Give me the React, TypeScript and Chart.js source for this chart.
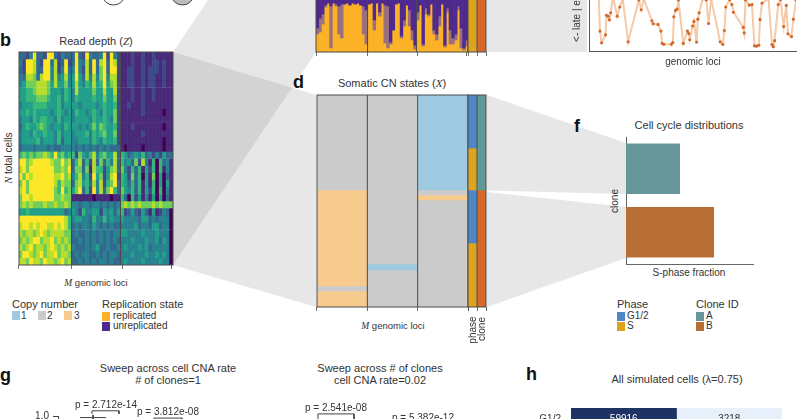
import React, { useEffect, useRef } from "react";
import { Chart, registerables } from "chart.js";

Chart.register(...registerables);

// ---------- panel b: read depth, one digit per cell (viridis bin), rows top to bottom
const readDepthRows = [
  "332493329932433" + "39329433492942" + "111211211211111",
  "429983299382392" + "39438393893982" + "111211211221211",
  "329983399482493" + "49428393793992" + "112211212221211",
  "438873899484584" + "59538484794882" + "112211212211211",
  "457778887585574" + "58546585695782" + "112211212211211",
  "556678887555465" + "48555575585582" + "111211211211111",
  "556667776556465" + "46555565575572" + "111211211211111",
  "455566665556455" + "55455554565562" + "112111211111111",
  "556565555456545" + "46554565465572" + "111111211111011",
  "455465665546455" + "45555465565472" + "111111111111111",
  "356556765455465" + "55454575765562" + "111211111111011",
  "455465565546455" + "45556465675572" + "111111211111111",
  "455556455546355" + "44555465465562" + "111111111111011",
  "344434443433444" + "43434343434333" + "101111011111011",
  "676767787696756" + "62754684675583" + "653454634242533",
  "997899999877978" + "36836283736483" + "645372841606341",
  "897999999977879" + "37737186625783" + "742636152606141",
  "979899999988978" + "46846295725892" + "652736051705031",
  "797999999986877" + "37856384826793" + "653636151605051",
  "897999999976967" + "57936294837963" + "754636152606041",
  "799899999977877" + "11111101111011" + "630625141505031",
  "787877787787787" + "44344344343434" + "787878777878777",
  "556555555555534" + "54264455254535" + "623532531512430",
  "999999999999986" + "45544364464544" + "544443553434440",
  "899898998898986" + "34344354343433" + "444453443553440",
  "878878987888877" + "34334343434344" + "554444544454440",
  "787899788978787" + "33434343434343" + "444544454453540",
  "878978878987878" + "43334345334334" + "454445453444440",
  "799878978897887" + "34344334343443" + "444544454454540",
  "887988798878978" + "33434343443433" + "454444544445440",
].map((r) => r.slice(0, 44));
const viridis = ["#440154", "#482878", "#3e4989", "#31688e", "#26828e", "#1f9e89", "#35b779", "#6ece58", "#b5de2b", "#fde725"];

// ---------- panel c: replication state per genomic column, depth in cells from the top
const unreplicatedDepth = [28, 18, 14, 5, 3, 6, 3, 4, 6, 4, 4, 3, 5, 3, 4, 3, 5, 6, 10, 4, 3, 20, 3, 12, 3, 5, 6, 42, 30, 4, 3, 36, 20, 5, 10, 30, 45, 12, 5, 44, 8, 14, 4, 30, 34, 16, 4, 45, 8, 30, 38, 34, 6, 28, 48, 40];
const mixedDepth = [6, 14, 10, 2, 0, 42, 0, 2, 28, 34, 0, 0, 0, 0, 0, 0, 0, 28, 34, 0, 0, 10, 0, 4, 0, 38, 42, 2, 0, 0, 0, 2, 6, 0, 16, 10, 4, 8, 0, 2, 6, 2, 0, 4, 6, 10, 0, 2, 4, 14, 6, 6, 4, 20, 2, 6];

// ---------- panel d: somatic CN states, cells per run, top to bottom
const GREY = "#cbcbcb", LBLUE = "#9fc9e0", LORANGE = "#f7cb8e";
const PHASE_G = "#4f86c6", PHASE_S = "#dea31f", CLONE_A = "#5f9a99", CLONE_B = "#d5682b";
const locusLabels = ["locus 1", "locus 2", "locus 3"];
const locus1Runs = [95, 96, 5, 16];
const locus1Colors = [GREY, LORANGE, GREY, LORANGE];
const locus2Runs = [169, 6, 37];
const locus2Colors = [GREY, LBLUE, GREY];
const locus3Runs = [95, 5, 5, 107];
const locus3Colors = [LBLUE, GREY, LORANGE, GREY];
const trackLabels = ["phase", "clone"];
const phaseRuns = [53, 42, 53, 64];
const phaseColors = [PHASE_G, PHASE_S, PHASE_G, PHASE_S];
const cloneRuns = [95, 117];
const cloneColors = [CLONE_A, CLONE_B];

// ---------- panel e: replication timing profile
const lociX = [10, 11.3, 13, 17, 18, 19.7, 21, 22.3, 24.7, 29, 31.7, 34.7, 40.3, 51.3, 53.7, 56.3, 64.7, 66, 71, 74, 75.3, 77, 84.7, 86.3, 87.3, 89, 90.7, 92, 97, 101.3, 102.7, 103.7, 106.7, 108, 110.7, 112, 113.3, 117, 120.7, 123, 125.7, 135, 137.7, 139.3, 140.7, 144.7, 147, 148.7, 158.7, 159.7, 161, 165, 167.7, 170.3, 172.3, 174.7, 176, 178, 184.7, 188.3, 189.7, 191, 194.7, 197, 200.3, 203, 204.7, 208.3, 210.3, 213];
const timingY = [58, 21.7, 9, 17.7, 39, 38, 34, 41.7, 59, 38, 48, 57, 10, 55.7, 45, 57, 33, 29.7, 29, 21.7, 8.3, 7.3, 7.3, 9.3, 37.3, 44.3, 45.7, 55.7, 8.3, 21.7, 19, 12.3, 27.3, 32.3, 9.7, 34.7, 41.7, 57, 55.7, 30, 57, 10, 7.3, 22.3, 48, 56, 50.7, 42.3, 25.7, 19.7, 55.7, 50, 50.7, 5.7, 5.3, 6.3, 34.3, 52.3, 57, 7, 4.7, 11.3, 50.7, 56, 26.7, 49.7, 18.7, 15.7, 34.7, 55.7];

// ---------- panel f: S-phase fraction
const cloneNames = ["A", "B"];
const sPhaseFraction = [0.425, 0.693];
const cloneBarColors = ["#67979a", "#b96f33"];

// ---------- panel g: visible tops of the box plots and significance brackets
const yTicksG = [1.0];
const whiskerCapX = [1.04, 2.27];
const whiskerCapY = [0.9925, 0.9925];
const whiskerStemX = [1.66, 1.66];
const whiskerStemY = [1.005, 0.9];
const bracketAX = [1.61, 1.61, 2.89, 2.89];
const bracketAY = [1.01, 1.025, 1.025, 1.01];
const bracketBX = [4.55, 4.55, 5.88, 5.88];
const bracketBY = [0.9, 0.99, 0.99, 0.9];
const bracketCX = [12.32, 12.32, 14.03, 14.03];
const bracketCY = [0.9, 1.01, 1.01, 0.9];

// ---------- panel h: confusion counts
const confusionRow = ["G1/2"];
const confusionCounts = [59916, 3218];
const confusionColors = ["#1e3264", "#e8f1fb"];
const confusionInk = ["#ffffff", "#333333"];

const INK = "#333333";
const FRAME = "#4a4a4a";
const FONT = '"Liberation Sans", Arial, sans-serif';

const framePlugin = {
  id: "frame",
  afterDatasetsDraw(chart: any, _a: any, opts: any) {
    if (!opts || !opts.on) return;
    const { ctx, chartArea: a, scales } = chart;
    const x = scales.x;
    const half = (x.getPixelForValue(1) - x.getPixelForValue(0)) / 2;
    ctx.save();
    ctx.strokeStyle = opts.color || FRAME;
    ctx.lineWidth = 1;
    (opts.after || []).forEach((i: number) => {
      const px = x.getPixelForValue(i) + half;
      ctx.beginPath();
      ctx.moveTo(px, a.top);
      ctx.lineTo(px, a.bottom);
      ctx.stroke();
    });
    ctx.strokeRect(a.left, a.top, a.right - a.left, a.bottom - a.top);
    ctx.restore();
  },
};

const cellTextPlugin = {
  id: "cellText",
  afterDatasetsDraw(chart: any) {
    const { ctx } = chart;
    ctx.save();
    ctx.font = `10px ${FONT}`;
    ctx.textAlign = "center";
    ctx.textBaseline = "middle";
    chart.data.datasets.forEach((d: any, i: number) => {
      const el = chart.getDatasetMeta(i).data[0];
      const r = el.getProps(["x", "base", "y"], true);
      ctx.fillStyle = confusionInk[i];
      ctx.fillText(String(d.count), (r.x + r.base) / 2, r.y);
    });
    ctx.restore();
  },
};

const quietPlugins = { legend: { display: false }, title: { display: false }, tooltip: { enabled: false } };
const PAD = 2;
const TICK = 4;

function xTickScale(tickAt?: number[]) {
  return {
    type: "category",
    offset: true,
    stacked: true,
    border: { display: false },
    grid: { drawOnChartArea: false, drawTicks: true, tickLength: TICK, color: FRAME, tickColor: FRAME, lineWidth: 0.8 },
    ticks: { display: false, autoSkip: false },
    afterBuildTicks: tickAt
      ? (s: any) => {
          s.ticks = tickAt.map((value) => ({ value }));
        }
      : undefined,
  };
}

function stackedOptions(total: number, tickAt: number[] | undefined, after: number[]) {
  return {
    responsive: false,
    animation: false,
    devicePixelRatio: 1,
    events: [],
    layout: { padding: { left: PAD, right: PAD, top: PAD, bottom: PAD } },
    plugins: { ...quietPlugins, frame: { on: true, after } },
    scales: {
      x: xTickScale(tickAt),
      y: { display: false, stacked: true, reverse: true, min: 0, max: total },
    },
  };
}

const bar = { barPercentage: 1, categoryPercentage: 1, borderWidth: 0 };

function columnsConfig(labels: string[], runs: number[][], colors: string[][], total: number, after: number[], tickAt?: number[]) {
  const datasets: any[] = [];
  runs.forEach((col, ci) =>
    col.forEach((v, si) =>
      datasets.push({ ...bar, data: labels.map((_, i) => (i === ci ? v : null)), backgroundColor: colors[ci][si] })
    )
  );
  return { type: "bar", data: { labels, datasets }, options: stackedOptions(total, tickAt, after), plugins: [framePlugin] };
}

type Panel = { key: string; left: number; top: number; width: number; height: number; blur?: number; config: any };

const plotBox = (l: number, t: number, w: number, h: number) => ({
  left: l - PAD,
  top: t - PAD,
  width: w + 2 * PAD,
  height: h + 2 * PAD + TICK,
});

const depthColumns = unreplicatedDepth.map((_, i) => String(i));
const readDepthColumns = readDepthRows[0].split("").map((_, i) => String(i));

const axisOnly = (extra: any) => ({
  grid: { display: false, drawTicks: false },
  ticks: { display: false },
  ...extra,
});

const panels: Panel[] = [
  {
    key: "b",
    ...plotBox(19, 52, 154, 213),
    blur: 0.4,
    config: {
      type: "bar",
      data: {
        labels: readDepthColumns,
        datasets: readDepthRows.map((row) => {
          const colors = row.split("").map((c) => viridis[Number(c)]);
          return { ...bar, borderWidth: 0.5, borderColor: colors, borderSkipped: false, data: row.split("").map(() => 1), backgroundColor: colors };
        }),
      },
      options: stackedOptions(readDepthRows.length, [7, 22, 36], [14, 28]),
      plugins: [framePlugin],
    },
  },
  {
    key: "c",
    ...plotBox(316, -4, 152, 56),
    blur: 0.4,
    config: {
      type: "bar",
      data: {
        labels: depthColumns,
        datasets: [
          { ...bar, data: unreplicatedDepth.map((d) => d + 4), backgroundColor: "#4f2a8e" },
          { ...bar, data: mixedDepth, backgroundColor: "#9a6f7e" },
          { ...bar, data: unreplicatedDepth.map((d, i) => 52 - d - mixedDepth[i]), backgroundColor: "#fbb226" },
        ],
      },
      options: stackedOptions(56, [9, 28, 46], [18, 36]),
      plugins: [framePlugin],
    },
  },
  {
    key: "cTracks",
    ...plotBox(468, -4, 18, 56),
    config: columnsConfig(trackLabels, [[56], [56]], [[PHASE_S], [CLONE_B]], 56, [0]),
  },
  {
    key: "d",
    ...plotBox(317, 95, 151, 212),
    config: columnsConfig(locusLabels, [locus1Runs, locus2Runs, locus3Runs], [locus1Colors, locus2Colors, locus3Colors], 212, [0, 1]),
  },
  {
    key: "dTracks",
    ...plotBox(468, 95, 18, 212),
    config: columnsConfig(trackLabels, [phaseRuns, cloneRuns], [phaseColors, cloneColors], 212, [0]),
  },
  {
    key: "e",
    left: 585,
    top: -8,
    width: 215,
    height: 63,
    config: {
      type: "line",
      data: {
        datasets: [
          {
            data: lociX.map((x, i) => ({ x, y: timingY[i] })),
            borderColor: "#f5caa8",
            borderWidth: 2,
            pointRadius: 1.6,
            pointBackgroundColor: "#d2692d",
            pointBorderWidth: 0,
            tension: 0,
          },
        ],
      },
      options: {
        responsive: false,
        animation: false,
        devicePixelRatio: 1,
        events: [],
        layout: { padding: { left: 2, top: 0, right: 0, bottom: 3 } },
        plugins: quietPlugins,
        scales: {
          x: axisOnly({ type: "linear", min: 0, max: 213, border: { color: "#555", width: 1 }, afterFit: (s: any) => { s.height = 0; } }),
          y: axisOnly({ type: "linear", min: 0, max: 60, border: { color: "#555", width: 1 }, afterFit: (s: any) => { s.width = 0; } }),
        },
      },
    },
  },
  {
    key: "f",
    left: 624,
    top: 135,
    width: 132,
    height: 132,
    config: {
      type: "bar",
      data: {
        labels: cloneNames,
        datasets: [{ data: sPhaseFraction, backgroundColor: cloneBarColors, barPercentage: 0.795, categoryPercentage: 1 }],
      },
      options: {
        indexAxis: "y",
        responsive: false,
        animation: false,
        devicePixelRatio: 1,
        events: [],
        layout: { padding: { left: 2, top: 2, right: 3, bottom: 3 } },
        plugins: quietPlugins,
        scales: {
          x: axisOnly({ type: "linear", min: 0, max: 1, border: { color: "#666", width: 1 }, afterFit: (s: any) => { s.height = 0; } }),
          y: axisOnly({ type: "category", border: { color: "#666", width: 1 }, afterFit: (s: any) => { s.width = 0; } }),
        },
      },
    },
  },
  {
    key: "g",
    left: 0,
    top: 395,
    width: 480,
    height: 240,
    config: {
      type: "line",
      data: {
        datasets: [
          [whiskerCapX, whiskerCapY],
          [whiskerStemX, whiskerStemY],
          [bracketAX, bracketAY],
          [bracketBX, bracketBY],
          [bracketCX, bracketCY],
        ].map(([xs, ys]) => ({
          data: xs.map((x, i) => ({ x, y: ys[i] })),
          borderColor: "#444",
          borderWidth: 1,
          pointRadius: 0,
          clip: false,
          tension: 0,
        })),
      },
      options: {
        responsive: false,
        animation: false,
        devicePixelRatio: 1,
        events: [],
        layout: { padding: { left: 0, top: 21, right: 0, bottom: 0 } },
        plugins: quietPlugins,
        scales: {
          x: { type: "linear", display: false, min: 0, max: 20 },
          y: {
            type: "linear",
            min: 0,
            max: 1,
            afterFit: (s: any) => {
              s.width = 58;
            },
            afterBuildTicks: (s: any) => {
              s.ticks = yTicksG.map((value) => ({ value }));
            },
            grid: { drawOnChartArea: false, tickLength: 5, color: "#444" },
            border: { color: "#444" },
            ticks: { color: INK, font: { size: 10, family: FONT }, padding: 4, callback: (v: any) => Number(v).toFixed(1) },
          },
        },
      },
    },
  },
  {
    key: "h",
    left: 540,
    top: 392,
    width: 242,
    height: 54,
    config: {
      type: "bar",
      data: {
        labels: confusionRow,
        datasets: confusionCounts.map((count, i) => ({ ...bar, count, data: [1], backgroundColor: confusionColors[i] })),
      },
      options: {
        indexAxis: "y",
        responsive: false,
        animation: false,
        devicePixelRatio: 1,
        events: [],
        plugins: quietPlugins,
        scales: {
          x: { type: "linear", stacked: true, display: false, min: 0, max: 2 },
          y: {
            type: "category",
            stacked: true,
            afterFit: (s: any) => {
              s.width = 31;
            },
            grid: { display: false, drawTicks: false },
            border: { display: false },
            ticks: { color: INK, font: { size: 10, family: FONT }, padding: 10 },
          },
        },
      },
      plugins: [cellTextPlugin],
    },
  },
];

function ChartCanvas({ panel }: { panel: Panel }) {
  const ref = useRef<HTMLCanvasElement>(null);
  useEffect(() => {
    const chart = new Chart(ref.current as HTMLCanvasElement, panel.config);
    return () => chart.destroy();
  }, [panel]);
  return (
    <canvas
      ref={ref}
      width={panel.width}
      height={panel.height}
      style={{
        position: "absolute",
        left: panel.left,
        top: panel.top,
        width: panel.width,
        height: panel.height,
        filter: panel.blur ? `blur(${panel.blur}px)` : undefined,
      }}
    />
  );
}

function Label({ x, y, size = 10, bold, rotate, align = "center", children }: any) {
  const tx = align === "center" ? "-50%" : align === "right" ? "-100%" : "0";
  return (
    <span
      style={{
        position: "absolute",
        left: x,
        top: y,
        transform: `translate(${tx}, -50%)${rotate ? ` rotate(${rotate}deg)` : ""}`,
        transformOrigin: "center",
        whiteSpace: "nowrap",
        font: `${bold ? "bold " : ""}${size}px ${FONT}`,
        lineHeight: 1,
        color: bold ? "#111" : INK,
      }}
    >
      {children}
    </span>
  );
}

function Swatch({ x, y, color, w = 7.5 }: any) {
  return <div style={{ position: "absolute", left: x, top: y, width: w, height: 9, background: color }} />;
}

const Em = ({ children }: any) => <i style={{ fontFamily: '"Liberation Serif", serif' }}>{children}</i>;

export default function App() {
  return (
    <div style={{ position: "fixed", left: 0, top: 0, width: 800, height: 419, overflow: "hidden", background: "#fff" }}>
      <svg width={800} height={419} style={{ position: "absolute", left: 0, top: 0 }}>
        <g fill="rgba(130,130,130,0.19)">
          <polygon points="173,52 208,0 316,0 316,52 173,265" />
          <polygon points="173,52 316,95 316,307 173,265" />
          <polygon points="487,0 587,0 587,52 487,52" />
          <polygon points="487,95 626,143 626,194 487,190.5" />
          <polygon points="487,192 626,207 626,258 487,307" />
        </g>
        <circle cx={113.5} cy={-6.5} r={11.5} fill="#fff" stroke="#444" />
        <circle cx={182.5} cy={-6.5} r={11.5} fill="#bdbdbd" stroke="#444" />
      </svg>
      {panels.map((p) => (
        <ChartCanvas key={p.key} panel={p} />
      ))}

      <Label x={0} y={40} size={18} bold align="left">b</Label>
      <Label x={96} y={41} size={11}>Read depth (<Em>Z</Em>)</Label>
      <Label x={9} y={158} rotate={-90}><Em>N</Em> total cells</Label>
      <Label x={96} y={283} size={9.5}><Em>M</Em> genomic loci</Label>
      <Label x={12} y={304} size={11} align="left">Copy number</Label>
      <Swatch x={12} y={311} color={LBLUE} />
      <Label x={21} y={316} align="left">1</Label>
      <Swatch x={38} y={311} color={GREY} />
      <Label x={47} y={316} align="left">2</Label>
      <Swatch x={64} y={311} color={LORANGE} />
      <Label x={74} y={316} align="left">3</Label>
      <Label x={102} y={304} size={11} align="left">Replication state</Label>
      <Swatch x={102} y={312} color="#fbb226" />
      <Swatch x={102} y={322} color="#4f2a8e" />
      <Label x={113} y={316} align="left">replicated</Label>
      <Label x={113} y={326} align="left">unreplicated</Label>

      <Label x={293} y={82} size={18} bold align="left">d</Label>
      <Label x={392} y={83} size={11}>Somatic CN states (<Em>X</Em>)</Label>
      <Label x={393} y={326} size={9.5}><Em>M</Em> genomic loci</Label>
      <Label x={473} y={330} rotate={-90}>phase</Label>
      <Label x={482} y={329} rotate={-90}>clone</Label>

      <Label x={577} y={7} rotate={-90}>{"<- late | early ->"}</Label>
      <Label x={693} y={62}>genomic loci</Label>

      <Label x={574} y={126} size={18} bold align="left">f</Label>
      <Label x={689} y={125} size={11}>Cell cycle distributions</Label>
      <Label x={615} y={201} rotate={-90}>clone</Label>
      <Label x={689} y={273}>S-phase fraction</Label>
      <Label x={617} y={304} size={11} align="left">Phase</Label>
      <Swatch x={617} y={312} color={PHASE_G} />
      <Swatch x={617} y={322} color={PHASE_S} />
      <Label x={627} y={316} align="left">G1/2</Label>
      <Label x={627} y={326} align="left">S</Label>
      <Label x={696} y={304} size={11} align="left">Clone ID</Label>
      <Swatch x={696} y={312} color="#67979a" />
      <Swatch x={696} y={322} color="#b96f33" />
      <Label x={706} y={316} align="left">A</Label>
      <Label x={706} y={326} align="left">B</Label>

      <Label x={0} y={375} size={18} bold align="left">g</Label>
      <Label x={168} y={368} size={11}>Sweep across cell CNA rate</Label>
      <Label x={168} y={380} size={11}># of clones=1</Label>
      <Label x={380} y={368} size={11}>Sweep across # of clones</Label>
      <Label x={380} y={380} size={11}>cell CNA rate=0.02</Label>
      <Label x={106} y={405}>p = 2.712e-14</Label>
      <Label x={168} y={412}>p = 3.812e-08</Label>
      <Label x={336} y={408}>p = 2.541e-08</Label>
      <Label x={423} y={418}>p = 5.382e-12</Label>

      <Label x={526} y={374} size={18} bold align="left">h</Label>
      <Label x={677} y={379} size={11}>All simulated cells (λ=0.75)</Label>
    </div>
  );
}
